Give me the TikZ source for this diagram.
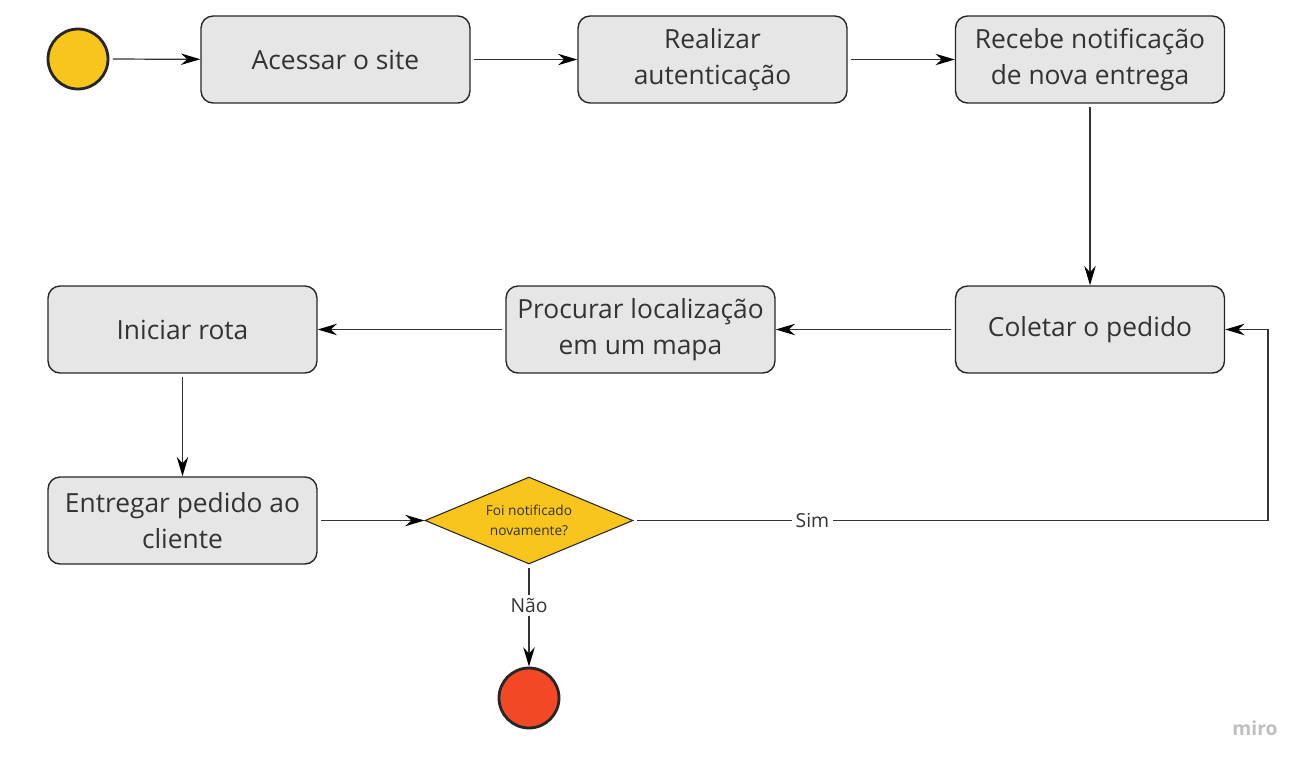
\documentclass[tikz,border=0pt]{standalone}
\usepackage{fontspec}
\setmainfont{Open Sans}
\usetikzlibrary{arrows.meta,shapes.geometric}
\definecolor{Am}{RGB}{248, 197, 28}
\definecolor{Ve}{RGB}{242, 72, 38}
\definecolor{Ci}{RGB}{230, 230, 230}
\definecolor{Tx}{RGB}{51, 51, 51}

\tikzset{
  caixa/.style={draw=black!85, line width=0.8pt, fill=Ci, rounded corners=0.24cm,
    minimum width=5.38cm, minimum height=1.74cm, inner sep=0pt, align=center,
    text=Tx, font=\fontsize{15}{20.4}\selectfont},
  bola/.style={circle, draw=black!85, line width=1.6pt, minimum size=1.2cm, inner sep=0pt},
  seta/.style={draw=Tx, line width=0.7pt, shorten <=2pt,
    -{Stealth[length=11pt,width=6.5pt,color=black]}},
  rotulo/.style={fill=white, text=Tx, inner sep=2pt, font=\fontsize{11}{13}\selectfont}
}

\begin{document}
\begin{tikzpicture}[x=0.02cm, y=-0.02cm]
  \useasboundingbox (0,0) rectangle (1306,765);

  % Inicio e fim
  \node[bola, fill=Am] (ini) at (78,59) {};
  \node[bola, fill=Ve] (fim) at (529,698) {};

  % Primeira linha
  \node[caixa] (site) at (335.5,59.5) {Acessar o site};
  \node[caixa] (aut) at (712.5,59.5) {Realizar\\autenticação};
  \node[caixa] (noti) at (1090,59.5) {Recebe notificação\\de nova entrega};

  % Segunda linha
  \node[caixa] (col) at (1090,329.5) {Coletar o pedido};
  \node[caixa] (mapa) at (640.5,329.5) {Procurar localização\\em um mapa};
  \node[caixa] (rota) at (182.5,329.5) {Iniciar rota};

  % Terceira linha
  \node[caixa] (ent) at (182.5,520.5) {Entregar pedido ao\\cliente};
  \node[diamond, draw=black!85, line width=0.6pt, fill=Am, inner sep=0pt, aspect=2.4,
    minimum width=4.16cm, minimum height=1.74cm, align=center, text=Tx,
    font=\fontsize{7.8}{11.3}\selectfont] (dec) at (529,520.5) {Foi notificado\\novamente?};
  \coordinate (volta) at (1268,520.5);

  % Conectores
  \draw[seta] (ini) -- (site);
  \draw[seta] (site) -- (aut);
  \draw[seta] (aut) -- (noti);
  \draw[seta] (noti) -- (col);
  \draw[seta] (col) -- (mapa);
  \draw[seta] (mapa) -- (rota);
  \draw[seta] (rota) -- (ent);
  \draw[seta] (ent) -- (dec);
  \draw[seta] (dec.east) -- node[rotulo, pos=0.282] {Sim} (volta) |- (col.east);
  \draw[seta] (dec.south) -- node[rotulo, pos=0.4] {Não} (fim);

  % marca
  \node[text=black!25, font=\bfseries\fontsize{11}{13}\selectfont] (marca) at (1255,728) {miro};
\end{tikzpicture}
\end{document}
